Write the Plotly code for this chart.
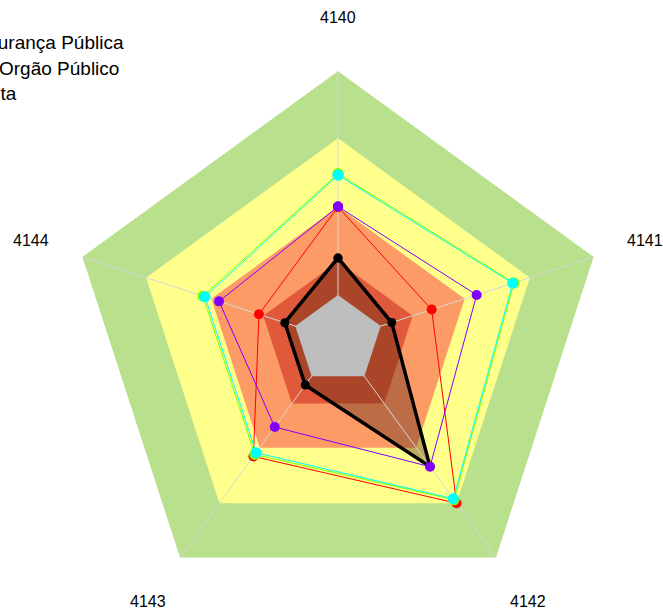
import math
import plotly.graph_objects as go

# ---------------- data ----------------
categories = ["4140", "4141", "4142", "4143", "4144"]

# series values (radial scale 0-100)
serie_preta = [30.5, 21.0, 58.2, 20.7, 20.8]
serie_vermelha = [49.5, 36.6, 75.0, 53.5, 30.9]
serie_roxa = [49.6, 54.2, 58.2, 40.0, 46.5]
serie_verde = [61.8, 68.8, 73.4, 52.6, 52.8]
serie_ciano = [61.3, 68.3, 72.9, 51.8, 52.0]

# background bands (outer radius of each band)
band_levels = [100, 75, 49.5, 29.2]
band_colors = ["#B9E08C", "#FFFF8C", "#FD9B66", "#E0593A"]
center_level = 16.7
center_color = "#BEBEBE"

legend_names = ["Segurança Pública", "Orgão Público", "Meta"]

FONT = "Liberation Sans, Arial, sans-serif"
LABEL_RADIUS = 1.2  # category labels at 1.2 x outer radius


def closed(vals):
    return list(vals) + [vals[0]]


theta_c = closed(categories)

fig = go.Figure()

# bands
for lvl, col in zip(band_levels, band_colors):
    fig.add_trace(go.Scatterpolar(
        r=closed([lvl] * len(categories)), theta=theta_c, mode="lines",
        fill="toself", fillcolor=col, line=dict(width=0, color=col),
        hoverinfo="skip", showlegend=False))

# semi-transparent fill of black series
fig.add_trace(go.Scatterpolar(
    r=closed(serie_preta), theta=theta_c, mode="lines", fill="toself",
    fillcolor="rgba(90,40,20,0.40)", line=dict(width=0),
    hoverinfo="skip", showlegend=False))

# spokes
for cat in categories:
    fig.add_trace(go.Scatterpolar(
        r=[0, band_levels[0]], theta=[cat, cat], mode="lines",
        line=dict(color="#D6D6D6", width=1), hoverinfo="skip", showlegend=False))

# gray center
fig.add_trace(go.Scatterpolar(
    r=closed([center_level] * len(categories)), theta=theta_c, mode="lines",
    fill="toself", fillcolor=center_color, line=dict(width=0, color=center_color),
    hoverinfo="skip", showlegend=False))

# series lines
series = [
    (serie_preta, "#000000", 3.5, 9),
    (serie_vermelha, "#FF0000", 1, 10),
    (serie_roxa, "#8000FF", 1, 10),
    (serie_verde, "#80FF00", 1, 11),
    (serie_ciano, "#00FFFF", 1, 11),
]
for vals, col, w, ms in series:
    fig.add_trace(go.Scatterpolar(
        r=closed(vals), theta=theta_c, mode="lines+markers",
        line=dict(color=col, width=w), marker=dict(color=col, size=ms),
        showlegend=False))

# category labels outside the web (polar domain is square, centred at 0.5/0.5)
n = len(categories)
for i, cat in enumerate(categories):
    ang = math.radians(90 - 360.0 * i / n)
    fig.add_annotation(text=cat, xref="paper", yref="paper",
                       x=0.5 + 0.5 * LABEL_RADIUS * math.cos(ang),
                       y=0.5 + 0.5 * LABEL_RADIUS * math.sin(ang),
                       xanchor="center", yanchor="middle", showarrow=False,
                       font=dict(size=16, color="#000000", family=FONT))

# legend texts (partially outside the canvas, as in the original)
legend_x_shift = [-107, -72, -97]
legend_y_shift = [29, 3, -22]
for name, xs, ys in zip(legend_names, legend_x_shift, legend_y_shift):
    fig.add_annotation(text=name, xref="paper", yref="paper", x=0, y=1,
                       xanchor="left", yanchor="middle", xshift=xs, yshift=ys,
                       showarrow=False, font=dict(size=19, color="#000000", family=FONT))

fig.update_layout(
    width=663, height=612,
    margin=dict(l=69, r=56, t=71, b=3, autoexpand=False),
    paper_bgcolor="white", plot_bgcolor="white",
    font=dict(family=FONT),
    showlegend=False,
    polar=dict(
        domain=dict(x=[0, 1], y=[0, 1]),
        bgcolor="rgba(0,0,0,0)",
        gridshape="linear",
        radialaxis=dict(range=[0, 100], visible=False, showgrid=False),
        angularaxis=dict(rotation=90, direction="clockwise", showgrid=False,
                         showline=False, showticklabels=False, ticks="",
                         categoryorder="array", categoryarray=categories),
    ),
)

fig.write_html("out.html", config={"displayModeBar": False},
               post_script="document.body.style.margin='0';document.body.style.overflow='hidden';")
